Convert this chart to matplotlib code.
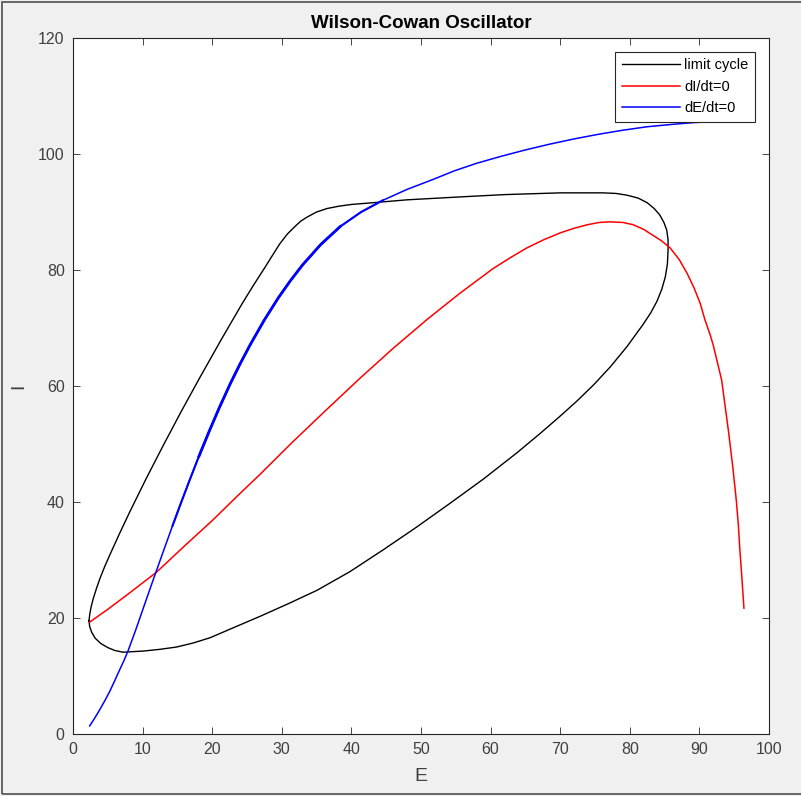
import numpy as np
import matplotlib
matplotlib.use('Agg')
import matplotlib.pyplot as plt
from matplotlib.patches import Rectangle

# limit cycle trajectory in the (E, I) plane
cycle_E = [2.3, 2.4, 2.6, 2.9, 3.4, 3.9, 4.6, 5.3, 6.7, 8.2, 10.5, 12.9, 15.5, 18.2,
           21.3, 24.4, 26.0, 27.5, 28.7, 29.7, 30.8, 31.8, 32.7, 33.6, 35.0, 36.5,
           38.2, 40.0, 43.1, 48.0, 55.6, 62.0, 70.0, 76.1, 78.0, 79.6, 81.2, 82.5,
           83.5, 84.3, 84.9, 85.3, 85.5, 85.5, 85.4, 85.1, 84.6, 83.9, 83.0, 81.9,
           79.6, 77.2, 74.8, 72.4, 69.8, 67.1, 63.8, 58.9, 54.2, 49.4, 44.5, 39.8,
           35.1, 31.0, 26.9, 23.0, 19.7, 17.3, 14.9, 12.5, 10.1, 8.6, 7.2, 6.0, 5.0,
           4.0, 3.2, 2.7, 2.4, 2.3]
cycle_I = [19.5, 20.6, 21.9, 23.3, 25.2, 26.9, 29.0, 30.9, 34.6, 38.4, 44.0, 49.6,
           55.5, 61.4, 68.0, 74.4, 77.5, 80.3, 82.6, 84.5, 86.2, 87.4, 88.4, 89.1,
           90.0, 90.6, 91.0, 91.3, 91.6, 92.1, 92.6, 93.0, 93.3, 93.3, 93.2, 92.9,
           92.4, 91.6, 90.6, 89.5, 88.2, 86.9, 85.2, 83.4, 81.0, 78.8, 76.7, 74.6,
           72.6, 70.6, 66.8, 63.3, 60.2, 57.4, 54.6, 51.8, 48.5, 43.9, 39.8, 35.7,
           31.7, 28.0, 24.8, 22.5, 20.3, 18.3, 16.6, 15.7, 15.0, 14.6, 14.3, 14.2,
           14.1, 14.4, 14.9, 15.6, 16.5, 17.5, 18.5, 19.5]

# I-nullcline (dI/dt = 0)
nullI_E = [2.4, 5.0, 8.0, 12.0, 16.0, 20.1, 23.5, 26.9, 31.6, 36.5, 41.2, 46.0, 50.9,
           55.6, 60.3, 62.8, 65.2, 67.6, 70.0, 72.0, 73.9, 75.6, 77.2, 79.0, 80.5,
           82.0, 83.3, 84.6, 85.8, 87.1, 88.2, 89.2, 90.1, 90.8, 91.5, 92.0, 92.6,
           93.2, 93.7, 94.2, 94.8, 95.3, 95.6, 95.8, 96.1, 96.4]
nullI_I = [19.3, 21.5, 24.2, 27.9, 32.4, 36.9, 40.9, 44.8, 50.4, 56.0, 61.3, 66.5, 71.5,
           76.0, 80.2, 82.1, 83.8, 85.2, 86.4, 87.2, 87.8, 88.2, 88.3, 88.2, 87.8,
           87.0, 86.0, 85.0, 83.8, 81.8, 79.5, 77.0, 74.3, 71.4, 69.0, 67.0, 64.0,
           61.0, 56.5, 52.0, 46.0, 40.3, 36.0, 32.0, 27.0, 21.7]

# E-nullcline (dE/dt = 0)
nullE_E = [2.4, 3.1, 3.8, 4.6, 5.3, 6.0, 6.6, 7.3, 7.9, 9.0, 10.1, 11.0, 12.0, 13.1,
           14.3, 15.5, 16.8, 18.1, 19.5, 21.0, 22.6, 24.0, 25.5, 27.5, 29.5, 31.2,
           33.0, 35.6, 38.4, 41.4, 44.5, 48.0, 51.7, 54.8, 58.0, 61.5, 65.0, 68.5,
           72.0, 75.5, 79.0, 82.5, 86.0, 89.0, 92.0, 96.3]
nullE_I = [1.4, 2.7, 4.1, 5.8, 7.4, 9.2, 10.8, 12.6, 14.3, 17.9, 21.7, 24.8, 28.2, 31.9,
           35.9, 39.8, 43.9, 47.9, 52.0, 56.2, 60.4, 63.8, 67.2, 71.4, 75.2, 78.1,
           80.9, 84.4, 87.5, 90.0, 92.0, 93.9, 95.6, 97.1, 98.4, 99.6, 100.7, 101.7,
           102.6, 103.4, 104.1, 104.7, 105.1, 105.4, 105.6, 106.0]

plt.rcParams['font.family'] = ['Liberation Sans', 'DejaVu Sans']
axcol = '#262626'

fig = plt.figure(figsize=(8.01, 7.96), dpi=100, facecolor='#f0f0f0')
ax = fig.add_axes([73 / 801, 62 / 796, 696 / 801, 696 / 796])
ax.set_facecolor('white')

ax.plot(cycle_E, cycle_I, color='black', lw=1.0, label='limit cycle')
ax.plot(nullI_E, nullI_I, color='red', lw=1.1, label='dI/dt=0')
ax.plot(nullE_E, nullE_I, color='blue', lw=1.1, label='dE/dt=0')
# middle stretch of the E-nullcline is traced more than once
eE = np.array(nullE_E)
eI = np.array(nullE_I)
ax.plot(eE[(eE >= 14) & (eE <= 45)], eI[(eE >= 14) & (eE <= 45)], color='blue', lw=1.5)
ax.plot(eE[(eE >= 18) & (eE <= 40)], eI[(eE >= 18) & (eE <= 40)], color='blue', lw=2.0)

ax.set_xlim(0, 100)
ax.set_ylim(0, 120)
ax.set_xticks(np.arange(0, 101, 10))
ax.set_yticks(np.arange(0, 121, 20))
ax.tick_params(direction='in', top=True, right=True, length=5, width=0.6,
               colors=axcol, labelsize=11.5, labelcolor='#404040', pad=6)
for s in ax.spines.values():
    s.set_color(axcol)
    s.set_linewidth(0.8)

ax.set_xlabel('E', fontsize=14, color='#404040', labelpad=8)
ax.set_ylabel('I', fontsize=14, color='#404040', labelpad=8)
ax.set_title('Wilson-Cowan Oscillator', fontsize=13.5, fontweight='bold', color='black', pad=7)

leg = ax.legend(loc='upper right', bbox_to_anchor=(0.98, 0.98), borderaxespad=0,
                fontsize=10.5, handlelength=4.0, handletextpad=0.3, labelspacing=0.5,
                fancybox=False, framealpha=1, edgecolor=axcol, borderpad=0.45)
leg.get_frame().set_linewidth(0.8)

# thin outer border around the window
fig.patches.append(Rectangle((0.002, 0.003), 1.2, 0.994, transform=fig.transFigure,
                             fill=False, edgecolor='#505050', lw=1.2))

fig.savefig('out.png', dpi=100, facecolor=fig.get_facecolor())
